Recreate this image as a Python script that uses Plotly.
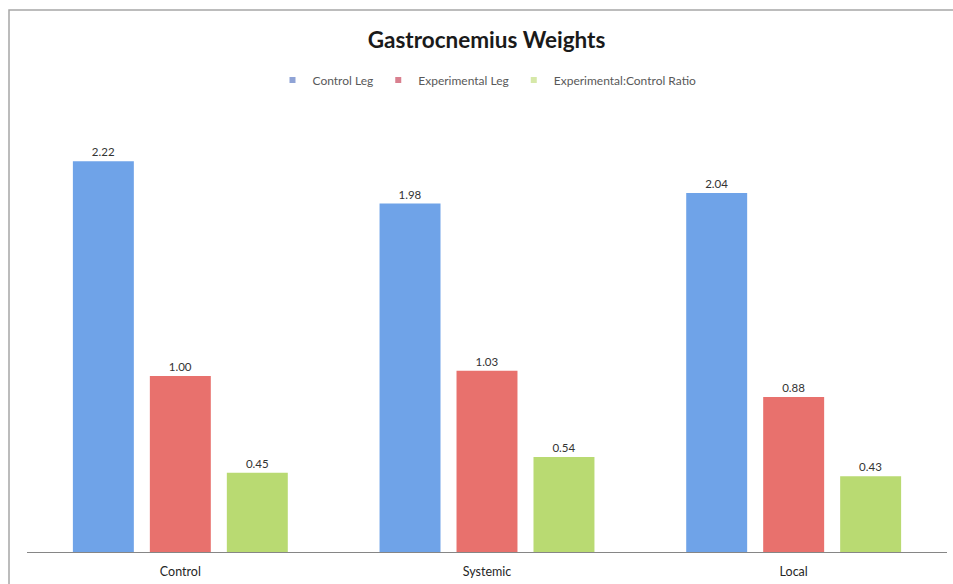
import plotly.graph_objects as go

categories = ["Control", "Systemic", "Local"]
control_leg = [2.22, 1.98, 2.04]
experimental_leg = [1.00, 1.03, 0.88]
ratio = [0.45, 0.54, 0.43]
series_names = ["Control Leg", "Experimental Leg", "Experimental:Control Ratio"]
series_colors = ["#6fa3e8", "#e8716d", "#b9da72"]
legend_colors = ["#8fa3d6", "#d9808f", "#d6e8a8"]

fig = go.Figure()
for name, vals, col, lcol in zip(series_names, [control_leg, experimental_leg, ratio],
                                 series_colors, legend_colors):
    fig.add_trace(go.Bar(
        x=categories, y=vals, name=name, showlegend=False,
        marker=dict(color=col, line=dict(width=0)),
        text=[f"{v:.2f}" for v in vals],
        textposition="outside",
        textfont=dict(family="Lato", size=11.5, color="#333333"),
        cliponaxis=False,
    ))
    fig.add_trace(go.Scatter(
        x=[None], y=[None], mode="markers", name=name,
        marker=dict(symbol="square", size=6, color=lcol),
    ))

fig.update_layout(
    width=953, height=584,
    margin=dict(l=27, r=6, t=112, b=32),
    paper_bgcolor="white", plot_bgcolor="white",
    font=dict(family="Lato", color="#404040"),
    title=dict(text="<b>Gastrocnemius Weights</b>", x=0.5105, xanchor="center",
               y=1 - 40/584, yanchor="middle",
               font=dict(family="Lato", size=22.5, color="#1a1a1a")),
    barmode="group", bargap=0.247, bargroupgap=0.208,
    showlegend=True,
    legend=dict(orientation="h", x=0.5, xanchor="center", y=(552-80)/440, yanchor="middle",
                font=dict(family="Lato", size=12, color="#595959"),
                itemwidth=30, bgcolor="rgba(0,0,0,0)"),
    xaxis=dict(showline=True, linecolor="#868686", linewidth=1, ticks="",
               ticklabelstandoff=8,
               tickfont=dict(family="Lato", size=12.5, color="#262626"), showgrid=False),
    yaxis=dict(range=[0, 2.5], visible=False, showgrid=False, zeroline=False),
    shapes=[dict(type="rect", xref="paper", yref="paper",
                 x0=(9-27)/920, x1=(960-27)/920, y0=-0.2, y1=(552-10)/440,
                 line=dict(color="#a6a6a6", width=1.5), fillcolor="rgba(0,0,0,0)", layer="below")],
)

fig.write_html("out.html", config={"displayModeBar": False},
               post_script="document.body.style.margin='0';")
